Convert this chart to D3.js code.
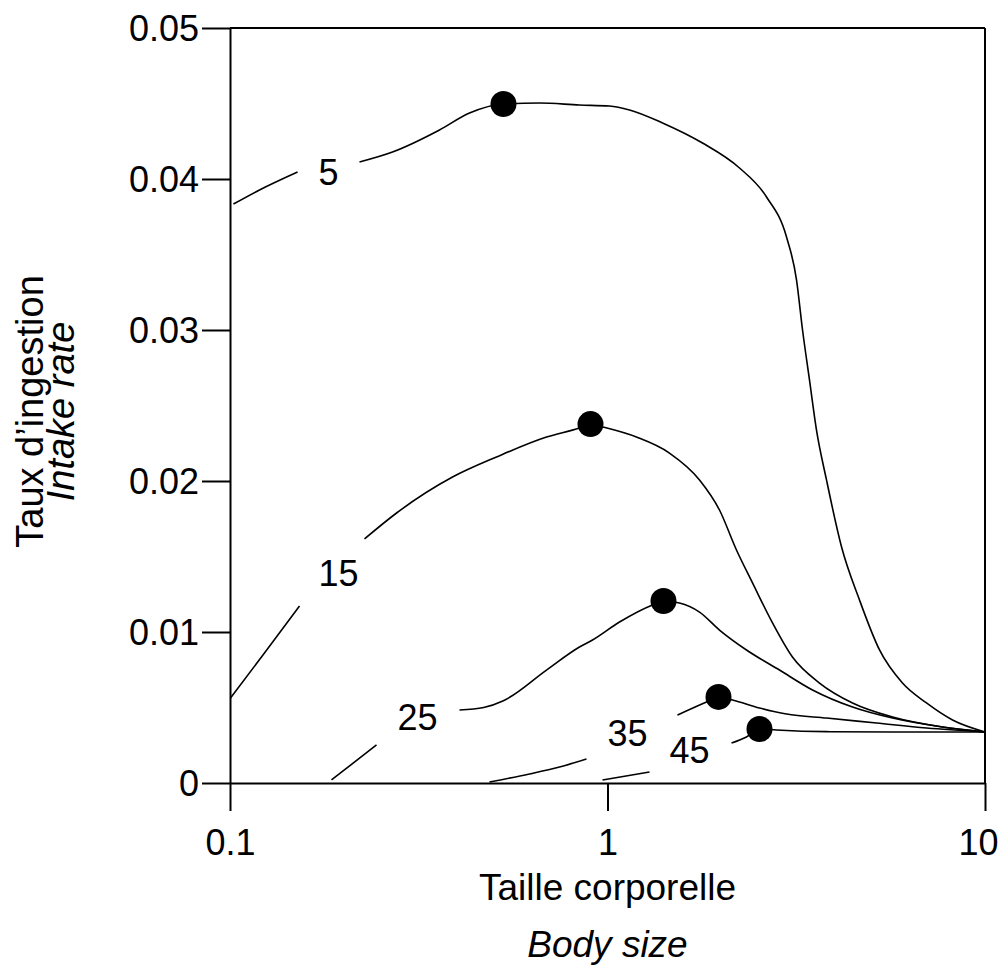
<!DOCTYPE html>
<html>
<head>
<meta charset="utf-8">
<script src="https://cdn.jsdelivr.net/npm/d3@7/dist/d3.min.js"></script>
<style>
  html, body { margin: 0; padding: 0; background: #fff; }
  svg { display: block; font-family: "Liberation Sans", Arial, Helvetica, sans-serif; }
</style>
</head>
<body>
<svg id="chart" width="1003" height="975"></svg>
<script>
// Intake rate against body size, one curve per level; a null entry breaks the
// line where the curve's label is written.
const levels = ["5", "15", "25", "35", "45"];

const size5 = [0.1021, 0.1197, 0.1510, null, 0.2203, 0.2694, 0.3589, 0.4310, 0.5302, 0.6605, 0.8428, 1.012, 1.144, 1.399, 1.785, 2.237, 2.638, 2.980, 3.168, 3.286, 3.428, 3.577, 3.803, 4.169, 4.651, 5.255, 6.045, 6.998, 8.203, 10];
const rate5 = [0.03834, 0.03927, 0.04046, null, 0.04113, 0.04179, 0.04325, 0.04437, 0.04497, 0.04503, 0.04490, 0.04483, 0.04457, 0.04371, 0.04238, 0.04073, 0.03881, 0.03616, 0.03331, 0.03000, 0.02669, 0.02338, 0.02007, 0.01563, 0.01212, 0.00881, 0.00662, 0.00530, 0.00417, 0.00338];

const size15 = [0.1003, 0.1234, 0.1528, null, 0.2271, 0.2762, 0.3886, 0.5081, 0.6893, 0.8428, 0.9015, 0.9700, 1.193, 1.459, 1.753, 1.980, 2.196, 2.422, 2.736, 3.090, 3.644, 4.457, 5.689, 7.717, 10];
const rate15 = [0.00563, 0.00861, 0.01172, null, 0.01616, 0.01788, 0.02026, 0.02159, 0.02291, 0.02351, 0.02377, 0.02358, 0.02291, 0.02185, 0.02007, 0.01808, 0.01543, 0.01325, 0.01060, 0.00834, 0.00662, 0.00530, 0.00437, 0.00371, 0.00338];

const size25 = [0.1857, 0.2444, null, 0.4055, 0.4700, 0.5300, 0.6893, 0.8428, 0.9127, 1.076, 1.316, 1.407, 1.551, 1.753, 1.980, 2.334, 2.855, 3.492, 4.457, 5.689, 7.717, 10];
const rate25 = [0.0002, 0.00252, null, 0.00483, 0.00500, 0.00545, 0.00748, 0.00901, 0.00947, 0.01066, 0.01179, 0.01205, 0.01192, 0.01132, 0.01013, 0.00881, 0.00748, 0.00616, 0.00503, 0.00430, 0.00371, 0.00338];

const size35 = [0.4868, 0.6213, 0.7462, 0.8798, null, 1.532, 1.829, 1.968, 2.144, 2.527, 2.980, 3.803, 5.160, 6.998, 10];
const rate35 = [0.00007, 0.00060, 0.00106, 0.00159, null, 0.00450, 0.00536, 0.00570, 0.00550, 0.00497, 0.00457, 0.00430, 0.00397, 0.00364, 0.00338];

const size45 = [0.9700, 1.292, null, 2.131, 2.334, 2.527, 2.803, 3.803, 5.689, 10];
const rate45 = [0.0002, 0.00073, null, 0.00265, 0.00305, 0.00358, 0.00351, 0.00340, 0.00338, 0.00338];

// Maximum of each curve
const peakSize = [0.5302, 0.9015, 1.407, 1.968, 2.527];
const peakRate = [0.04497, 0.02377, 0.01205, 0.00570, 0.00358];

// Where each curve's label sits
const labelSize = [0.1824, 0.1938, 0.3138, 1.130, 1.649];
const labelRate = [0.04046, 0.01391, 0.00437, 0.00331, 0.00219];

// Axis ticks
const xTicks = [0.1, 1, 10];
const xTickLabels = ["0.1", "1", "10"];
const yTicks = [0, 0.01, 0.02, 0.03, 0.04, 0.05];
const yTickLabels = ["0", "0.01", "0.02", "0.03", "0.04", "0.05"];

const sizes = [size5, size15, size25, size35, size45];
const rates = [rate5, rate15, rate25, rate35, rate45];

const svg = d3.select("#chart");
const plot = { left: 230, right: 985, top: 28, bottom: 783 };

const x = d3.scaleLog().domain([0.1, 10]).range([plot.left, plot.right]);
const y = d3.scaleLinear().domain([0, 0.05]).range([plot.bottom, plot.top]);

// Curves
const line = d3.line()
  .defined(d => d[1] !== null)
  .x(d => x(d[0]))
  .y(d => y(d[1]))
  .curve(d3.curveMonotoneX);

const curves = levels.map((name, i) => ({
  name,
  points: sizes[i].map((s, j) => [s, rates[i][j]])
}));

svg.append("g")
  .selectAll("path")
  .data(curves)
  .join("path")
  .attr("d", d => line(d.points))
  .attr("fill", "none")
  .attr("stroke", "#000")
  .attr("stroke-width", 1.6);

// Peak markers
svg.append("g")
  .selectAll("circle")
  .data(peakSize.map((s, i) => [s, peakRate[i]]))
  .join("circle")
  .attr("cx", d => x(d[0]))
  .attr("cy", d => y(d[1]))
  .attr("r", 13)
  .attr("fill", "#000");

// Curve labels
svg.append("g")
  .selectAll("text")
  .data(levels.map((name, i) => ({ name, s: labelSize[i], r: labelRate[i] })))
  .join("text")
  .attr("x", d => x(d.s))
  .attr("y", d => y(d.r))
  .attr("dy", "0.36em")
  .attr("text-anchor", "middle")
  .attr("font-size", 36)
  .text(d => d.name);

// Frame: top and right edges
svg.append("line")
  .attr("x1", plot.left).attr("x2", plot.right).attr("y1", plot.top).attr("y2", plot.top)
  .attr("stroke", "#000").attr("stroke-width", 2);
svg.append("line")
  .attr("x1", plot.right).attr("x2", plot.right).attr("y1", plot.top).attr("y2", plot.bottom)
  .attr("stroke", "#000").attr("stroke-width", 2);

// Axes
const yAxis = d3.axisLeft(y)
  .tickValues(yTicks)
  .tickFormat((d, i) => yTickLabels[i])
  .tickSize(28)
  .tickSizeOuter(0)
  .tickPadding(3);

const xAxis = d3.axisBottom(x)
  .tickValues(xTicks)
  .tickFormat((d, i) => xTickLabels[i])
  .tickSize(28)
  .tickSizeOuter(0)
  .tickPadding(20);

const gy = svg.append("g").attr("transform", `translate(${plot.left},0)`).call(yAxis);
const gx = svg.append("g").attr("transform", `translate(0,${plot.bottom})`).call(xAxis);

[gx, gy].forEach(g => {
  g.attr("font-family", null).attr("font-size", null);
  g.selectAll("path, line").attr("stroke", "#000").attr("stroke-width", 2);
  g.selectAll("text").attr("fill", "#000").attr("font-size", 36);
});
gy.selectAll("text").attr("dy", "0.36em");
// baseline of the bottom tick labels; the last one is pulled in from the page edge
gx.selectAll("text")
  .attr("y", 72)
  .attr("dy", 0)
  .attr("x", (d, i, nodes) => (i === nodes.length - 1 ? -7 : 0));

// Axis titles
const xMid = (plot.left + plot.right) / 2;
svg.append("text")
  .attr("x", xMid)
  .attr("y", 900)
  .attr("text-anchor", "middle")
  .attr("font-size", 37)
  .text("Taille corporelle");
svg.append("text")
  .attr("x", xMid)
  .attr("y", 957)
  .attr("text-anchor", "middle")
  .attr("font-size", 37)
  .attr("font-style", "italic")
  .text("Body size");

const yMid = (plot.top + plot.bottom) / 2;
svg.append("text")
  .attr("transform", `translate(43,${yMid + 6}) rotate(-90)`)
  .attr("text-anchor", "middle")
  .attr("font-size", 38)
  .text("Taux d\u2019ingestion");
svg.append("text")
  .attr("transform", `translate(74,${yMid + 6}) rotate(-90)`)
  .attr("text-anchor", "middle")
  .attr("font-size", 38)
  .attr("font-style", "italic")
  .text("Intake rate");
</script>
</body>
</html>
